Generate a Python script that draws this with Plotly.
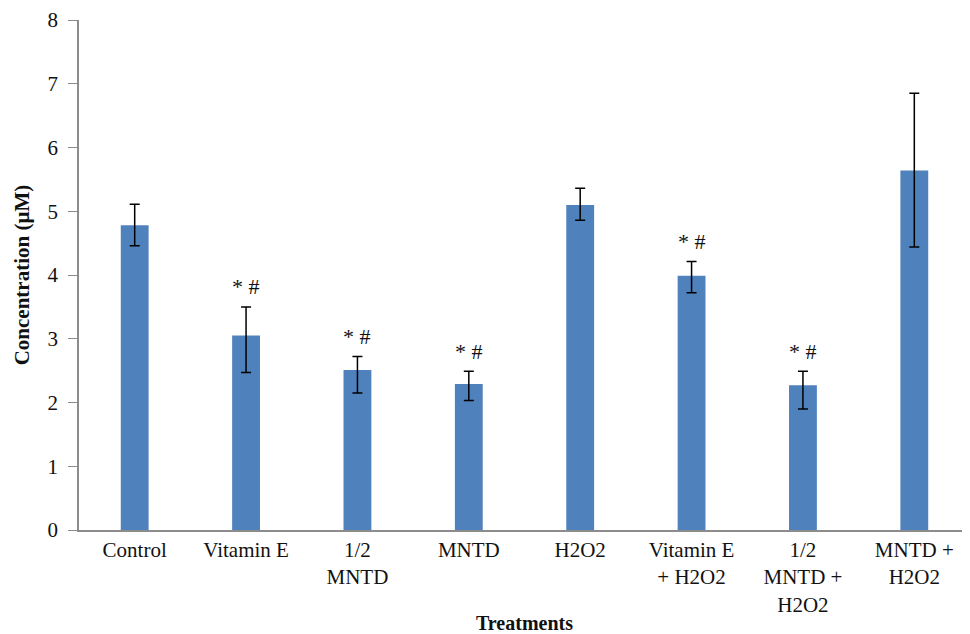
import plotly.graph_objects as go

categories = ["Control", "Vitamin E", "1/2<br>MNTD", "MNTD", "H2O2",
              "Vitamin E<br>+ H2O2", "1/2<br>MNTD +<br>H2O2", "MNTD +<br>H2O2"]
means = [4.78, 3.05, 2.51, 2.29, 5.10, 3.99, 2.27, 5.64]
err_plus = [0.33, 0.45, 0.21, 0.20, 0.26, 0.22, 0.22, 1.21]
err_minus = [0.32, 0.58, 0.36, 0.26, 0.24, 0.27, 0.37, 1.20]
significance = ["", "* #", "* #", "* #", "", "* #", "* #", ""]
y_ticks = [0, 1, 2, 3, 4, 5, 6, 7, 8]

SERIF = "Liberation Serif, Times New Roman, serif"
TXT = "#111111"

fig = go.Figure()
fig.add_trace(go.Bar(
    x=categories, y=means,
    marker=dict(color="#4F81BD", line=dict(width=0)),
    error_y=dict(type="data", symmetric=False, array=err_plus, arrayminus=err_minus,
                 color="#000000", thickness=1.5, width=5),
))

for cat, m, ep, s in zip(categories, means, err_plus, significance):
    if s:
        fig.add_annotation(x=cat, y=m + ep, text=s, showarrow=False,
                           yanchor="middle", yshift=20,
                           font=dict(family=SERIF, size=22, color=TXT))

# page body has an 8px default margin, so the figure is sized to fill the rest
fig.update_layout(
    width=962, height=626,
    margin=dict(l=71, r=0, t=12, b=104),
    paper_bgcolor="white", plot_bgcolor="white",
    bargap=0.75, showlegend=False,
    font=dict(family=SERIF, size=21, color=TXT),
)
fig.update_xaxes(
    automargin=False,
    showline=True, linecolor="#8c8c8c", linewidth=1.5,
    showgrid=False, ticks="", tickfont=dict(family=SERIF, size=21, color=TXT),
    title=dict(text="<b>Treatments</b>", font=dict(family=SERIF, size=20, color=TXT),
               standoff=13),
)
fig.update_yaxes(
    automargin=False,
    range=[0, 8], tickvals=y_ticks, showline=True, linecolor="#8c8c8c", linewidth=1.5,
    showgrid=False, zeroline=False, ticks="outside", ticklen=9, tickcolor="#8c8c8c",
    ticklabelstandoff=6,
    tickfont=dict(family=SERIF, size=21, color=TXT),
    title=dict(text="<b>Concentration (µM)</b>", font=dict(family=SERIF, size=21, color=TXT),
               standoff=12),
)

fig.write_html("out.html")
